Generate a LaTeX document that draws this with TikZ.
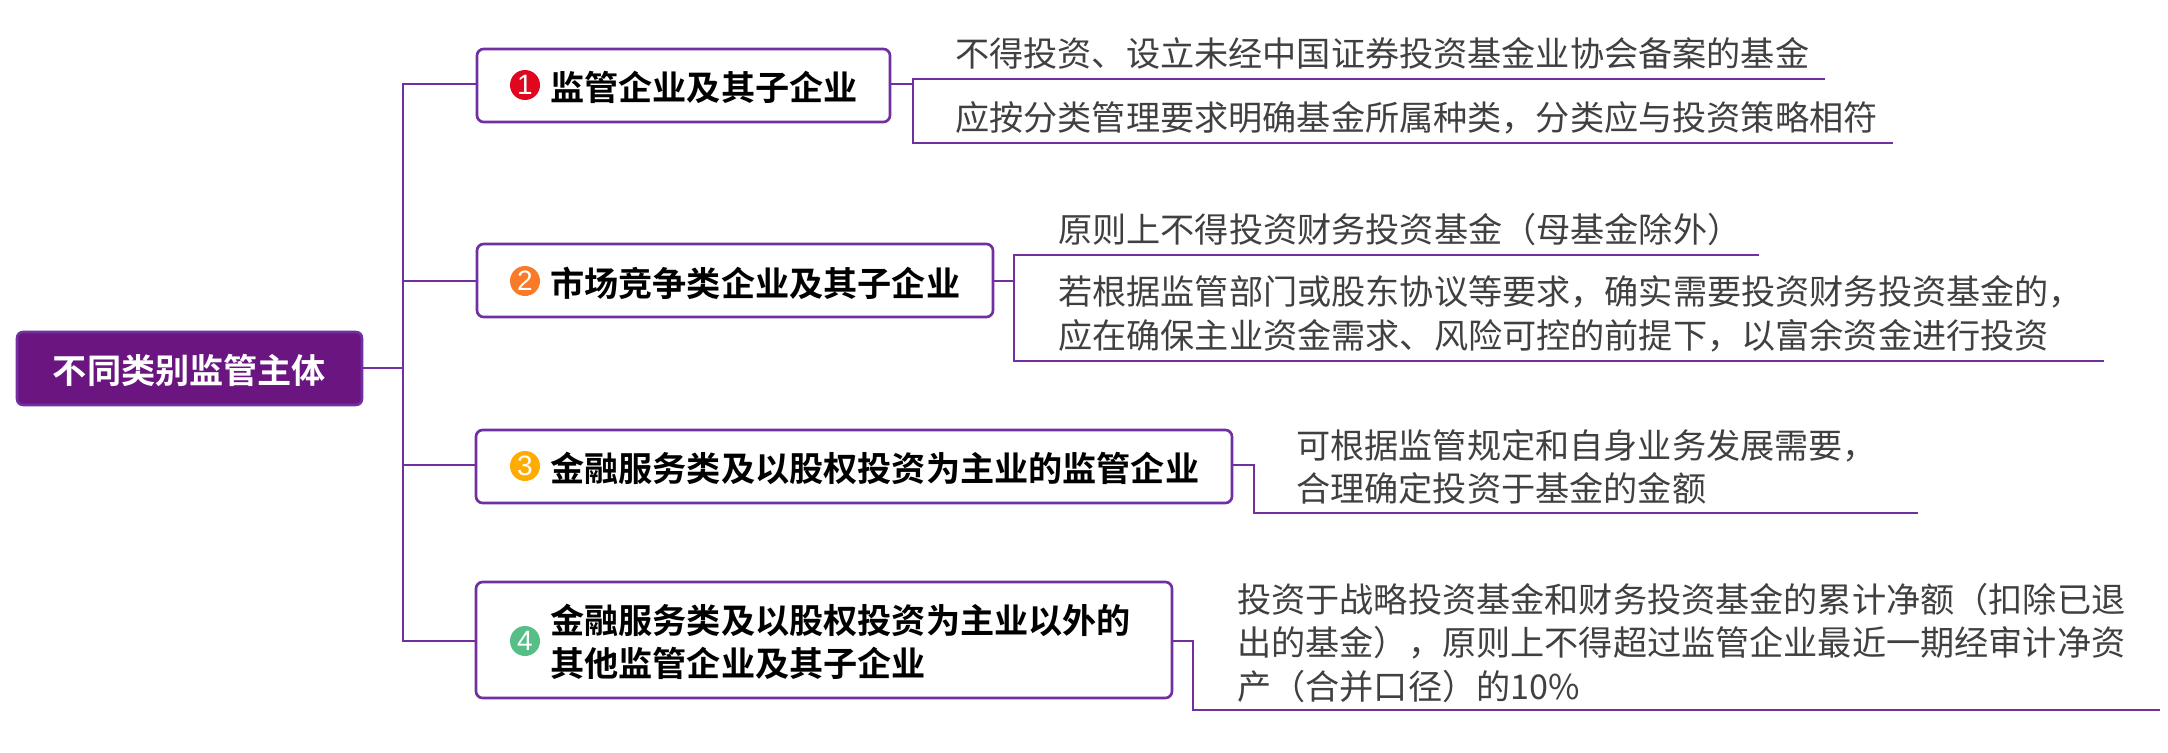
\documentclass[tikz,border=0pt]{standalone}
\usepackage{fontspec}
\setmainfont{Noto Sans CJK SC}[BoldFont={Noto Sans CJK SC Bold}]
\newfontfamily\digitfont{Liberation Sans}
\definecolor{mainpurple}{HTML}{7030A0}
\definecolor{rootpurple}{HTML}{6A1580}
\definecolor{leafgray}{HTML}{404040}
\definecolor{badgered}{HTML}{E0061F}
\definecolor{badgeorange}{HTML}{F97A27}
\definecolor{badgeamber}{HTML}{FFAB00}
\definecolor{badgegreen}{HTML}{55BF85}
\tikzset{
  x=0.75pt,y=-0.75pt,
  link/.style={draw=mainpurple,line width=2.05pt,line cap=butt,line join=miter},
  trunk/.style={draw=mainpurple,line width=2.05pt},
  rootbox/.style 2 args={draw=mainpurple,fill=rootpurple,line width=1.9pt,rounded corners=4.5pt,
    minimum width=#1*0.75pt,minimum height=#2*0.75pt,inner sep=0pt,outer sep=0pt,
    text=white,font=\fontsize{25.62}{32.6}\selectfont\bfseries},
  branchbox/.style 2 args={draw=mainpurple,fill=white,line width=2pt,rounded corners=5pt,
    minimum width=#1*0.75pt,minimum height=#2*0.75pt,inner sep=0pt,outer sep=0pt},
  branchtext/.style={anchor=west,align=left,inner sep=0pt,text=black,
    font=\fontsize{25.62}{32.6}\selectfont\bfseries},
  leaftext/.style={anchor=west,align=left,inner sep=0pt,text=leafgray,
    font=\fontsize{25.62}{32.6}\selectfont},
  badge/.style={circle,fill=#1,minimum size=22.5pt,inner sep=0pt,text=white,
    font=\fontsize{21}{21}\selectfont\digitfont},
}
\begin{document}
\begin{tikzpicture}
\useasboundingbox (0,0) rectangle (2168,753);
% root
\node[rootbox={345}{73}, text depth=0pt] (root) at (189.5,368.5) {不同类别监管主体};
% branch boxes
\node[branchbox={413}{73}] (b1) at (683.5,85.5) {};
\node[branchbox={516}{73}] (b2) at (735,280.5) {};
\node[branchbox={756}{73}] (b3) at (854,466.5) {};
\node[branchbox={696}{116}] (b4) at (824,640) {};
% badges
\node[badge=badgered] (d1) at (525,85) {1};
\node[badge=badgeorange] (d2) at (525,281) {2};
\node[badge=badgeamber] (d3) at (525,466) {3};
\node[badge=badgegreen] (d4) at (525,641) {4};
% branch text
\node[branchtext] (t1) at (550,87) {监管企业及其子企业};
\node[branchtext] (t2) at (550,283) {市场竞争类企业及其子企业};
\node[branchtext] (t3) at (550,468) {金融服务类及以股权投资为主业的监管企业};
\node[branchtext] (t4) at (550,642) {金融服务类及以股权投资为主业以外的\\其他监管企业及其子企业};
% leaf text
\node[leaftext] (l1a) at (955,53) {不得投资、设立未经中国证券投资基金业协会备案的基金};
\node[leaftext] (l1b) at (955,118) {应按分类管理要求明确基金所属种类，分类应与投资策略相符};
\node[leaftext] (l2a) at (1058,230) {原则上不得投资财务投资基金（母基金除外）};
\node[leaftext] (l2b) at (1058,314) {若根据监管部门或股东协议等要求，确实需要投资财务投资基金的，\\应在确保主业资金需求、风险可控的前提下，以富余资金进行投资};
\node[leaftext] (l3) at (1296,467) {可根据监管规定和自身业务发展需要，\\合理确定投资于基金的金额};
\node[leaftext] (l4) at (1237,643) {投资于战略投资基金和财务投资基金的累计净额（扣除已退\\出的基金），原则上不得超过监管企业最近一期经审计净资\\产（合并口径）的10\%};
% trunk
\coordinate (rj) at (403,368);
\coordinate (tj1) at (403,84);
\coordinate (tj2) at (403,281);
\coordinate (tj3) at (403,465);
\coordinate (tj4) at (403,641);
\draw[trunk] (root.east |- rj) -- (rj);
\draw[trunk] (b1.west |- tj1) -- (tj1) -- (tj4) -- (b4.west |- tj4);
\draw[trunk] (tj2) -- (b2.west |- tj2);
\draw[trunk] (tj3) -- (b3.west |- tj3);
% leaf connectors
\coordinate (c1) at (913,84);
\coordinate (c1a) at (913,79);
\coordinate (c1b) at (913,143);
\coordinate (e1a) at (1825,79);
\coordinate (e1b) at (1893,143);
\draw[link] (b1.east |- c1) -- (c1);
\draw[link] (e1a) -- (c1a) -- (c1b) -- (e1b);
\coordinate (c2) at (1014,281);
\coordinate (c2a) at (1014,255);
\coordinate (c2b) at (1014,361);
\coordinate (e2a) at (1759,255);
\coordinate (e2b) at (2104,361);
\draw[link] (b2.east |- c2) -- (c2);
\draw[link] (e2a) -- (c2a) -- (c2b) -- (e2b);
\coordinate (c3) at (1254,465);
\coordinate (c3b) at (1254,513);
\coordinate (e3) at (1918,513);
\draw[link] (b3.east |- c3) -- (c3) -- (c3b) -- (e3);
\coordinate (c4) at (1193,641);
\coordinate (c4b) at (1193,710);
\coordinate (e4) at (2160,710);
\draw[link] (b4.east |- c4) -- (c4) -- (c4b) -- (e4);
\end{tikzpicture}
\end{document}
